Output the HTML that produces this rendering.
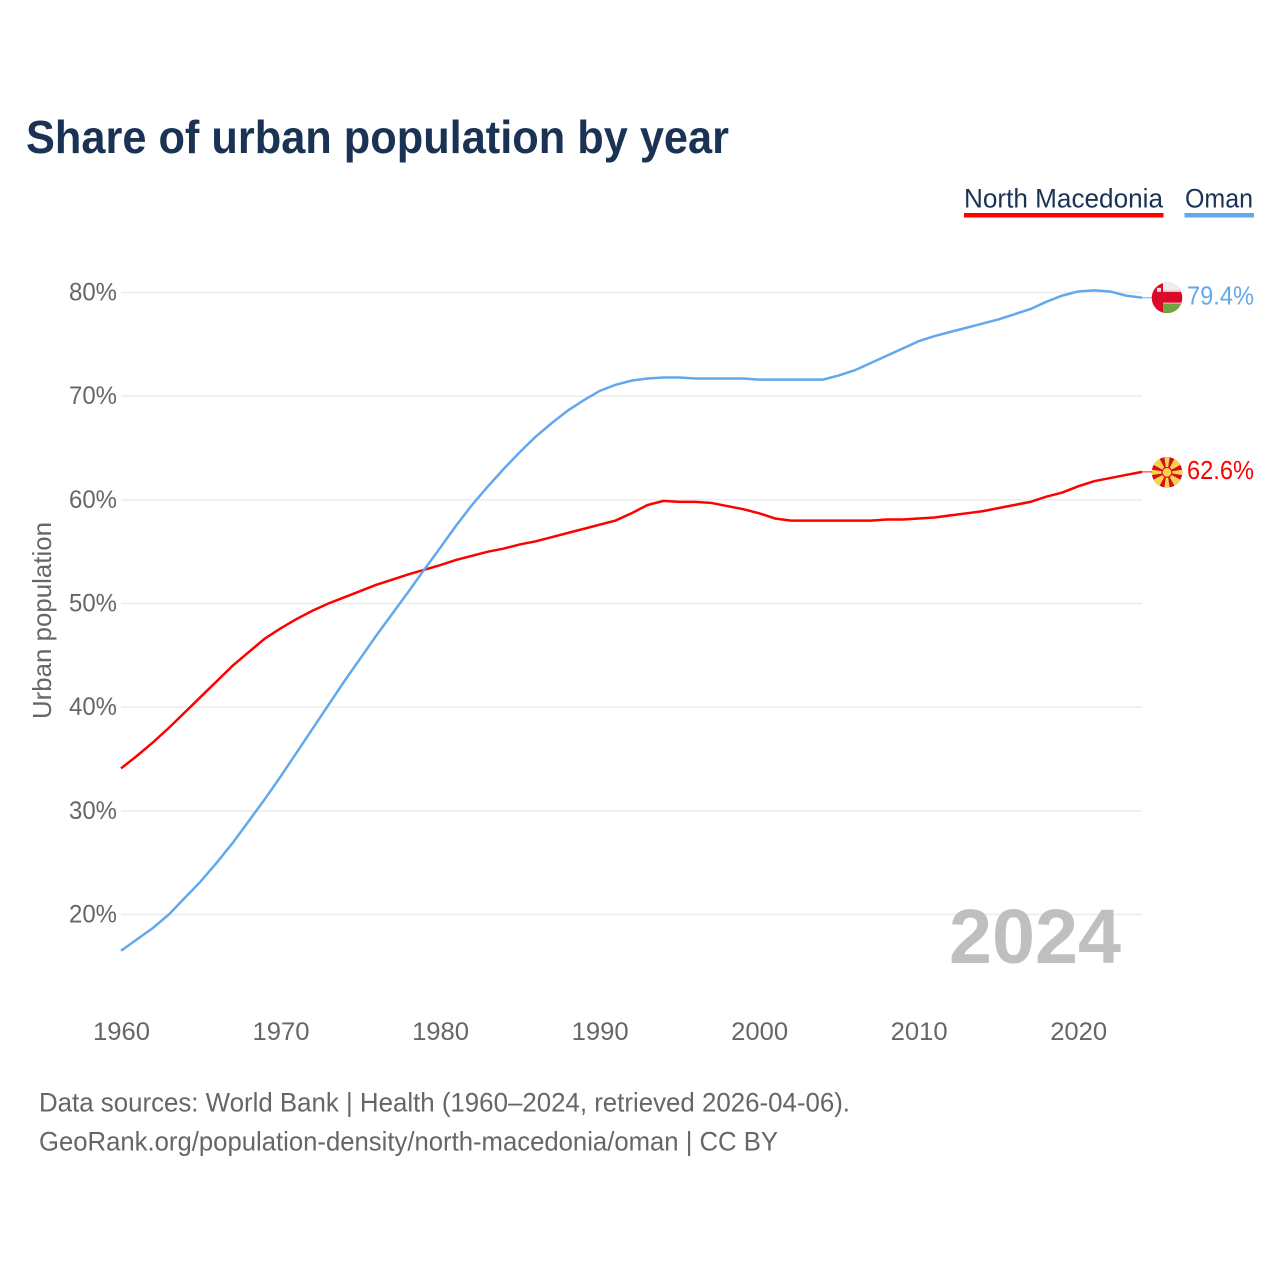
<!DOCTYPE html>
<html lang="en">
<head>
<meta charset="utf-8">
<title>Share of urban population by year</title>
<style>
html,body{margin:0;padding:0;background:#fff;width:1280px;height:1280px;overflow:hidden}
svg{display:block}
text{font-family:"Liberation Sans",sans-serif}
</style>
</head>
<body>
<svg id="chart" width="1280" height="1280" viewBox="0 0 1280 1280" xmlns="http://www.w3.org/2000/svg">
  <defs>
    <clipPath id="clip-oman"><circle cx="0" cy="0" r="15.3"/></clipPath>
    <clipPath id="clip-mk"><circle cx="0" cy="0" r="15.3"/></clipPath>
  </defs>
  <text x="26" y="153" font-size="46" font-weight="700" fill="#1a3354" textLength="703" lengthAdjust="spacingAndGlyphs">Share of urban population by year</text>

  <g>
    <g>
      <text x="964" y="207.500" font-size="27" fill="#1a3354" textLength="199" lengthAdjust="spacingAndGlyphs">North Macedonia</text>
      <rect x="964" y="213" width="199.500" height="4.500" fill="#ff0000"/>
    </g>
    <g>
      <text x="1185" y="207.500" font-size="27" fill="#1a3354" textLength="68" lengthAdjust="spacingAndGlyphs">Oman</text>
      <rect x="1184.500" y="213" width="69.500" height="4.500" fill="#62a8ec"/>
    </g>
  </g>

  <g id="grid"></g>
  <g id="yticks"></g>
  <g id="xticks"></g>

  <text transform="translate(51,719) rotate(-90)" font-size="26" fill="#666" textLength="197" lengthAdjust="spacingAndGlyphs">Urban population</text>

  <text x="949" y="963" font-size="77" font-weight="700" fill="#bfbfbf" textLength="172" lengthAdjust="spacingAndGlyphs">2024</text>

  <g id="series"></g>

  <g id="flag-oman">
    <g clip-path="url(#clip-oman)">
      <rect x="-16" y="-16" width="32" height="32" fill="#db0a2b"/>
      <rect x="-4" y="-16" width="20" height="9" fill="#eeeeee"/>
      <rect x="-4" y="-7" width="20" height="1" fill="#f6d5da"/>
      <rect x="-4" y="4.800" width="20" height="1" fill="#f6d5da"/>
      <rect x="-4" y="5.800" width="20" height="11" fill="#6da540"/>
      <rect x="-10" y="-10" width="4" height="4" fill="#f3d6da"/>
    </g>
  </g>
  <g id="flag-mk">
    <g clip-path="url(#clip-mk)">
      <circle cx="0" cy="0" r="16" fill="#d20f1f"/>
      <g fill="#f9d24a">
        <polygon points="-2.800,-16 2.800,-16 1,-4 -1,-4"/>
        <polygon points="-2.800,-16 2.800,-16 1,-4 -1,-4" transform="rotate(90)"/>
        <polygon points="-2.800,-16 2.800,-16 1,-4 -1,-4" transform="rotate(180)"/>
        <polygon points="-2.800,-16 2.800,-16 1,-4 -1,-4" transform="rotate(270)"/>
        <polygon points="-5.200,-18 5.200,-18 1.100,-4 -1.100,-4" transform="rotate(45)"/>
        <polygon points="-5.200,-18 5.200,-18 1.100,-4 -1.100,-4" transform="rotate(135)"/>
        <polygon points="-5.200,-18 5.200,-18 1.100,-4 -1.100,-4" transform="rotate(225)"/>
        <polygon points="-5.200,-18 5.200,-18 1.100,-4 -1.100,-4" transform="rotate(315)"/>
      </g>
      <circle cx="0" cy="0" r="5.400" fill="#d20f1f"/>
      <circle cx="0" cy="0" r="4.300" fill="#f9d24a"/>
    </g>
  </g>
  <text id="label-oman" x="1187" font-size="26" fill="#62a8ec" textLength="67" lengthAdjust="spacingAndGlyphs"></text>
  <text id="label-mk" x="1187" font-size="26" fill="#ff0000" textLength="67" lengthAdjust="spacingAndGlyphs"></text>

  <g>
    <text x="39" y="1111.500" font-size="27" fill="#666" textLength="811" lengthAdjust="spacingAndGlyphs">Data sources: World Bank | Health (1960–2024, retrieved 2026-04-06).</text>
    <text x="39" y="1150.500" font-size="27" fill="#666" textLength="739" lengthAdjust="spacingAndGlyphs">GeoRank.org/population-density/north-macedonia/oman | CC BY</text>
  </g>
</svg>
<script>
const years = [1960,1961,1962,1963,1964,1965,1966,1967,1968,1969,1970,1971,1972,1973,1974,1975,1976,1977,1978,1979,1980,1981,1982,1983,1984,1985,1986,1987,1988,1989,1990,1991,1992,1993,1994,1995,1996,1997,1998,1999,2000,2001,2002,2003,2004,2005,2006,2007,2008,2009,2010,2011,2012,2013,2014,2015,2016,2017,2018,2019,2020,2021,2022,2023,2024];
const omanValues = [16.5,17.6,18.7,20.0,21.6,23.2,25.0,26.9,29.0,31.1,33.3,35.6,37.9,40.2,42.5,44.7,46.9,49.0,51.1,53.25,55.35,57.5,59.5,61.3,63.0,64.6,66.1,67.4,68.6,69.6,70.5,71.1,71.5,71.7,71.8,71.8,71.7,71.7,71.7,71.7,71.6,71.6,71.6,71.6,71.6,72.0,72.5,73.2,73.9,74.6,75.3,75.8,76.2,76.6,77.0,77.4,77.9,78.4,79.1,79.7,80.1,80.2,80.1,79.7,79.5];
const macedoniaValues = [34.1,35.3,36.6,38.0,39.5,41.0,42.5,44.0,45.3,46.6,47.6,48.5,49.3,50.0,50.6,51.2,51.8,52.3,52.8,53.25,53.7,54.2,54.6,55.0,55.3,55.7,56.0,56.4,56.8,57.2,57.6,58.0,58.7,59.5,59.9,59.8,59.8,59.7,59.4,59.1,58.7,58.2,58.0,58.0,58.0,58.0,58.0,58.0,58.1,58.1,58.2,58.3,58.5,58.7,58.9,59.2,59.5,59.8,60.3,60.7,61.3,61.8,62.1,62.4,62.7];
const yTickValues = [20,30,40,50,60,70,80];
const xTickValues = [1960,1970,1980,1990,2000,2010,2020];
const printedOman = "79.4%";
const printedMacedonia = "62.6%";

const NS = "http://www.w3.org/2000/svg";
function xScale(yr){ return 121 + (yr - 1960) * (1142 - 121) / 64; }
function yScale(v){ return 914.5 - (v - 20) * (914.5 - 292.5) / 60; }

const gridG = document.getElementById('grid');
const yG = document.getElementById('yticks');
const xG = document.getElementById('xticks');
const seriesG = document.getElementById('series');

yTickValues.forEach(function(t){
  const l = document.createElementNS(NS,'line');
  
  
  l.setAttribute('x1', 121);
  l.setAttribute('x2', 1142);
  l.setAttribute('y1', yScale(t));
  l.setAttribute('y2', yScale(t));
  l.setAttribute('stroke', '#ececec');
  l.setAttribute('stroke-width', '1.500');
  gridG.appendChild(l);
  const s = document.createElementNS(NS,'text');
  
  
  s.setAttribute('x', 69);
  s.setAttribute('y', yScale(t) + 8);
  s.setAttribute('font-size', '25');
  s.setAttribute('fill', '#666');
  s.setAttribute('textLength', '48');
  s.setAttribute('lengthAdjust', 'spacingAndGlyphs');
  s.textContent = t + '%';
  yG.appendChild(s);
});

xTickValues.forEach(function(t){
  const s = document.createElementNS(NS,'text');
  
  
  s.setAttribute('x', xScale(t) - 28);
  s.setAttribute('y', 1040);
  s.setAttribute('font-size', '25');
  s.setAttribute('fill', '#666');
  s.setAttribute('textLength', '57');
  s.setAttribute('lengthAdjust', 'spacingAndGlyphs');
  s.textContent = t;
  xG.appendChild(s);
});

function linePath(vals){
  return vals.map(function(v,i){
    return (i ? 'L' : 'M') + xScale(years[i]).toFixed(2) + ' ' + yScale(v).toFixed(2);
  }).join(' ');
}

const pathMk = document.createElementNS(NS,'path');


pathMk.setAttribute('d', linePath(macedoniaValues));
pathMk.setAttribute('fill', 'none');
pathMk.setAttribute('stroke', '#ff0000');
pathMk.setAttribute('stroke-width', '2.500');
seriesG.appendChild(pathMk);

const pathOm = document.createElementNS(NS,'path');


pathOm.setAttribute('d', linePath(omanValues));
pathOm.setAttribute('fill', 'none');
pathOm.setAttribute('stroke', '#62a8ec');
pathOm.setAttribute('stroke-width', '2.500');
seriesG.appendChild(pathOm);

function leader(vals, color, name){
  const last = yScale(vals[vals.length - 1]);
  const l = document.createElementNS(NS,'line');
  
  
  l.setAttribute('x1', xScale(2024));
  l.setAttribute('x2', 1153);
  l.setAttribute('y1', last);
  l.setAttribute('y2', last);
  l.setAttribute('stroke', color);
  l.setAttribute('stroke-width', '1.300');
  l.setAttribute('opacity', '0.7');
  seriesG.appendChild(l);
  return last;
}
const endOm = leader(omanValues, '#62a8ec', 'oman-leader-line');
const endMk = leader(macedoniaValues, '#ff0000', 'north-macedonia-leader-line');

document.getElementById('flag-oman').setAttribute('transform', 'translate(1167,' + (endOm + 0.200) + ')');
document.getElementById('flag-mk').setAttribute('transform', 'translate(1167,' + (endMk + 0.500) + ')');

const labelOm = document.getElementById('label-oman');
labelOm.setAttribute('y', endOm + 7);
labelOm.textContent = printedOman;
const labelMk = document.getElementById('label-mk');
labelMk.setAttribute('y', endMk + 7);
labelMk.textContent = printedMacedonia;
</script>
</body>
</html>
